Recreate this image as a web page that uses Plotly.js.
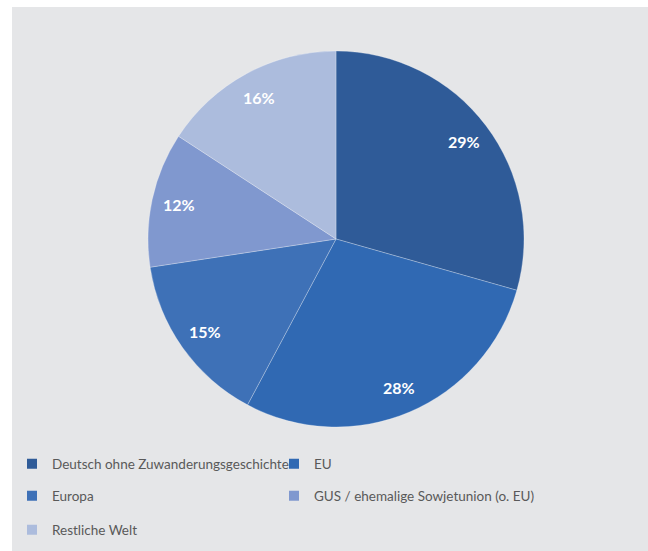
<!DOCTYPE html>
<html>
<head>
<meta charset="utf-8">
<script src="https://cdn.plot.ly/plotly-3.0.1.min.js"></script>
<style>
  html, body { margin: 0; padding: 0; background: #ffffff; width: 648px; height: 551px; overflow: hidden; }
  #chart { position: absolute; left: 12px; top: 7px; width: 636px; height: 544px; }
</style>
</head>
<body>
<div id="chart"></div>
<script>
// ---- data ----
const categories = [
  'Deutsch ohne Zuwanderungsgeschichte',
  'EU',
  'Europa',
  'GUS / ehemalige Sowjetunion (o. EU)',
  'Restliche Welt'
];
// shares in percent (slice angles; labels show them rounded)
const shares = [29.4, 28.4, 14.8, 11.6, 15.8];

// ---- styles / layout ----
const sliceColors = ['#2f5b98', '#3069b3', '#3e71b7', '#8098cf', '#acbcdd'];
const legendColLeft = [0, 262];       // px, left edge of legend box per column
const legendRowMid = [457, 489, 523]; // px from top, per row
const legendCols = 2;

const W = 636, H = 544;
const pieDomain = { x: [0.21384, 0.80503], y: [0.22794, 0.91912] };
const labelRadius = 0.856;
const bg = '#e5e6e8';

const pie = {
  type: 'pie',
  values: shares,
  labels: categories,
  sort: false,
  direction: 'clockwise',
  rotation: 0,
  textinfo: 'none',
  showlegend: false,
  hoverinfo: 'label+percent',
  marker: { colors: sliceColors, line: { color: 'rgba(255,255,255,0.45)', width: 0.6 } },
  domain: pieDomain
};

const legendName = i => (i === 0 ? 'legend' : 'legend' + (i + 1));

const legendTraces = categories.map((c, i) => ({
  type: 'scatter',
  mode: 'markers',
  x: [0], y: [0],
  name: c,
  legend: legendName(i),
  hoverinfo: 'skip',
  marker: { symbol: 'square', size: 10, color: sliceColors[i] }
}));

// percentage labels placed along each slice's middle angle
const total = shares.reduce((a, b) => a + b, 0);
const cxPaper = (pieDomain.x[0] + pieDomain.x[1]) / 2;
const cyPaper = (pieDomain.y[0] + pieDomain.y[1]) / 2;
const rPx = Math.min((pieDomain.x[1] - pieDomain.x[0]) * W, (pieDomain.y[1] - pieDomain.y[0]) * H) / 2;
let cum = 0;
const annotations = shares.map((v, i) => {
  const mid = (cum + v / 2) / total * 2 * Math.PI;
  cum += v;
  return {
    xref: 'paper', yref: 'paper',
    x: cxPaper + labelRadius * rPx * Math.sin(mid) / W,
    y: cyPaper + labelRadius * rPx * Math.cos(mid) / H,
    text: '<b>' + Math.round(v / total * 100) + '%</b>',
    showarrow: false,
    xanchor: 'center', yanchor: 'middle',
    font: { family: 'Lato, sans-serif', size: 16, color: '#ffffff' }
  };
});

const legendFont = { family: 'Lato, sans-serif', size: 13.5, color: '#595959' };

const layout = {
  width: W, height: H,
  margin: { l: 0, r: 0, t: 0, b: 0, pad: 0 },
  paper_bgcolor: bg,
  plot_bgcolor: bg,
  xaxis: { visible: false, range: [1, 2], fixedrange: true },
  yaxis: { visible: false, range: [1, 2], fixedrange: true },
  annotations: annotations,
  showlegend: true
};

categories.forEach((c, i) => {
  layout[legendName(i)] = {
    orientation: 'h', xanchor: 'left', yanchor: 'middle',
    x: legendColLeft[i % legendCols] / W,
    y: 1 - legendRowMid[Math.floor(i / legendCols)] / H,
    font: legendFont, bgcolor: 'rgba(0,0,0,0)', borderwidth: 0,
    itemclick: false, itemdoubleclick: false
  };
});

Plotly.newPlot('chart', [pie].concat(legendTraces), layout, { displayModeBar: false, staticPlot: true });
</script>
</body>
</html>
